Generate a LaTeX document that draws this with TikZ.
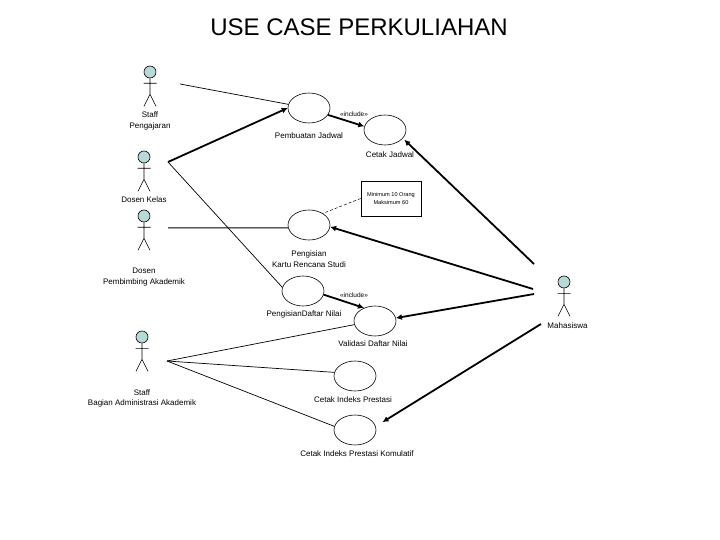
\documentclass[tikz,border=0pt]{standalone}
\usepackage{fontspec}
\setmainfont{Liberation Sans}
\usepackage{xcolor}
\usetikzlibrary{arrows.meta,positioning,shapes.geometric}
\definecolor{ucink}{HTML}{000000}
\definecolor{uchead}{HTML}{B9D8D8}

\begin{document}
\begin{tikzpicture}[x=1pt,y=-1pt,
  usecase/.style={ellipse,draw=ucink,fill=white,minimum width=42pt,minimum height=30pt,inner sep=0pt,line width=0.6pt},
  head/.style={circle,draw=ucink,fill=uchead,minimum size=12pt,inner sep=0pt,line width=0.6pt},
  label/.style={font=\fontsize{8}{10.5}\selectfont,align=center,text=ucink},
  tiny/.style={font=\fontsize{6.5}{7}\selectfont,text=ucink},
  note/.style={draw=ucink,fill=white,minimum width=60pt,minimum height=35pt,inner sep=0pt,line width=0.6pt,
               font=\fontsize{5.6}{8}\selectfont,align=center},
  assoc/.style={color=ucink,line width=0.7pt},
  flow/.style={-{Latex[length=6pt,width=6pt]},color=ucink,line width=1.8pt}
]
\useasboundingbox (0,0) rectangle (720,540);
\node[font=\fontsize{24}{28}\selectfont] (title) at (359,27) {USE CASE PERKULIAHAN};
% actors
\foreach \x/\y/\k in {150/72/a,144/157/b,144/216/c,142/337/d,564/282/e} {
  \node[head] (h\k) at (\x,\y) {};
  \draw[ucink,line width=0.6pt] (h\k.south) -- ++(0,16) -- ++(-6,12) ++(6,-12) -- ++(6,12)
    ++(-12.5,-23) -- ++(13,0);
}
\node[label] (lstaff) at (150,121) {Staff\\Pengajaran};
\node[label] (lkelas) at (144,200) {Dosen Kelas};
\node[label] (lpa) at (144,277) {Dosen\\Pembimbing Akademik};
\node[label] (lbaa) at (142,398.5) {Staff\\Bagian Administrasi Akademik};
\node[label] (lmhs) at (567.5,326) {Mahasiswa};
% use cases
\node[usecase] (jadwal) at (309,108) {};
\node[usecase] (cetak) at (385,130) {};
\node[usecase] (krs) at (309,225) {};
\node[usecase] (daftar) at (303,291) {};
\node[usecase] (validasi) at (375,321) {};
\node[usecase] (ip) at (355,376) {};
\node[usecase] (ipk) at (355,430) {};
\node[label] (ljadwal) at (309,136) {Pembuatan Jadwal};
\node[label] (lcetak) at (390,155) {Cetak Jadwal};
\node[label] (lkrs) at (309,259) {Pengisian\\Kartu Rencana Studi};
\node[label] (ldaftar) at (304,314) {PengisianDaftar Nilai};
\node[label] (lvalidasi) at (373,344) {Validasi Daftar Nilai};
\node[label] (lip) at (353,400) {Cetak Indeks Prestasi};
\node[label] (lipk) at (357,454) {Cetak Indeks Prestasi Komulatif};
\node[note] (batas) at (391,198.5) {Minimum 10 Orang\\Maksimum 60};
\node[tiny] (inc1) at (354,114) {<<include>>};
\node[tiny] (inc2) at (354,295) {<<include>>};
% free ends
\coordinate (sa) at (180,84);
\coordinate (sb) at (168,162);
\coordinate (sc) at (168,228);
\coordinate (sd) at (167,361);
\coordinate (se1) at (534,264);
\coordinate (se2) at (533,289);
\coordinate (se3) at (534,294);
\coordinate (se4) at (541,324);
% connectors
\draw[assoc] (sa) -- (jadwal.170);
\draw[flow] (sb) -- (jadwal.west);
\draw[assoc] (sb) -- (daftar.170);
\draw[assoc,line width=1pt] (sc) -- (krs.188);
\draw[assoc] (sd) -- (validasi.190);
\draw[assoc] (sd) -- (ip.170);
\draw[assoc] (sd) -- (ipk.170);
\draw[flow] (jadwal.-20) -- (cetak.170);
\draw[flow] (daftar.-10) -- (validasi.130);
\draw[flow,shorten >=2pt] (se1) -- (cetak.-25);
\draw[flow] (se2) -- (krs.-5);
\draw[flow] (se3) -- (validasi.8);
\draw[flow,shorten >=8pt] (se4) -- (ipk.10);
\draw[ucink,line width=0.5pt,densely dashed] (batas.west) -- (krs.40);
\end{tikzpicture}
\end{document}
